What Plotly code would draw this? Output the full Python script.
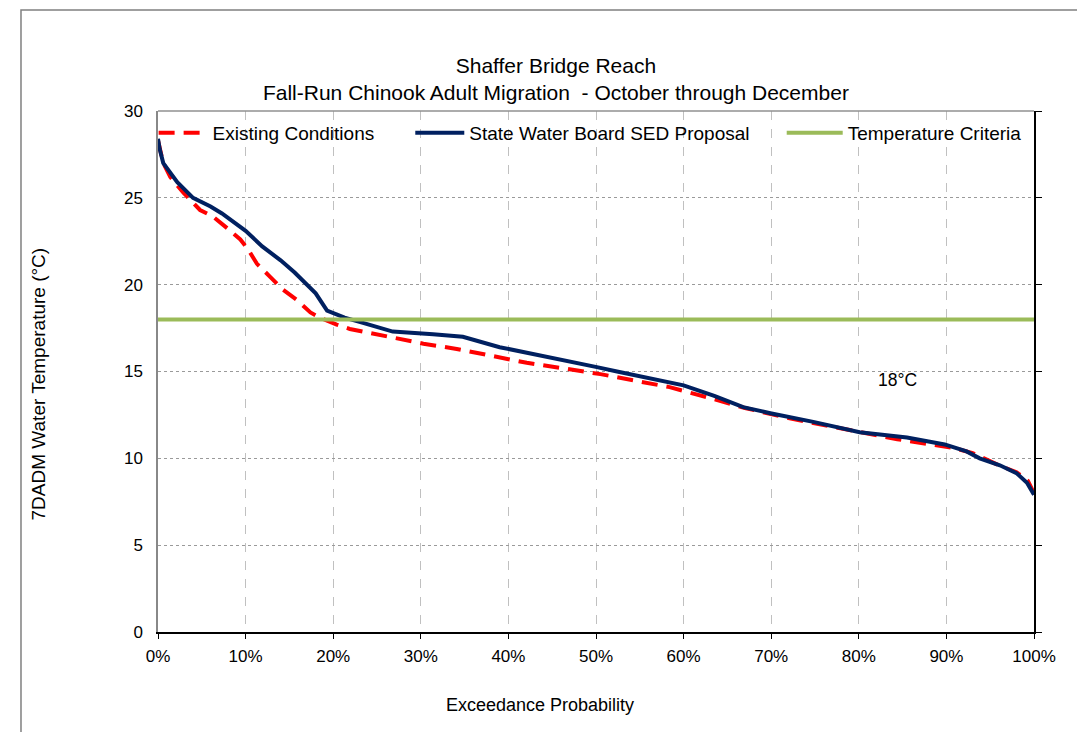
import plotly.graph_objects as go

# exceedance probability (%) and 7DADM temperature (deg C)
existing_x = [0, 0.6, 1.4, 2.9, 4.8, 6.2, 7.9, 9.4, 10.2, 11.3, 12.8, 14.3, 15.9, 17.4, 18.5,
              20.4, 21.9, 25.7, 30.3, 34.1, 38.7, 42.1, 46.7, 50.5, 54.7, 58.4, 62.8, 67.0,
              72.1, 75.2, 81.6, 84.4, 90.8, 93.0, 96.0, 98.0, 99.3, 100]
existing_y = [28.3, 27.0, 26.2, 25.3, 24.3, 23.95, 23.25, 22.6, 22.1, 21.2, 20.45, 19.7, 19.1,
              18.4, 18.1, 17.7, 17.45, 17.05, 16.6, 16.3, 15.85, 15.5, 15.15, 14.85, 14.45,
              14.1, 13.5, 12.9, 12.3, 12.0, 11.35, 11.1, 10.6, 10.3, 9.6, 9.2, 8.7, 8.0]

sed_x = [0, 0.2, 0.6, 1.2, 2.2, 4.0, 6.0, 7.3, 10.0, 11.9, 14.0, 15.6, 18.0, 19.3, 21.3, 23.4,
         26.8, 31.4, 34.8, 39.0, 41.0, 46.7, 50.1, 52.4, 56.2, 60.0, 63.5, 66.8, 69.9, 74.8,
         80.1, 85.5, 89.8, 92.3, 93.8, 96.1, 98.0, 99.2, 100]
sed_y = [28.4, 27.8, 27.0, 26.6, 25.9, 25.0, 24.5, 24.1, 23.1, 22.2, 21.4, 20.7, 19.5, 18.5,
         18.1, 17.8, 17.3, 17.15, 17.0, 16.4, 16.2, 15.6, 15.25, 15.0, 14.6, 14.2, 13.6,
         12.95, 12.6, 12.1, 11.5, 11.2, 10.8, 10.4, 10.0, 9.6, 9.15, 8.6, 7.9]

criteria_x = [0, 100]
criteria_y = [18, 18]

FONT = "Liberation Sans, Arial, sans-serif"

fig = go.Figure()
fig.add_trace(go.Scatter(x=[v / 100 for v in existing_x], y=existing_y, mode="lines",
                         name="Existing Conditions", legend="legend",
                         line=dict(color="#ff0000", width=4, dash="16px,9px")))
fig.add_trace(go.Scatter(x=[v / 100 for v in sed_x], y=sed_y, mode="lines",
                         name="State Water Board SED Proposal", legend="legend2",
                         line=dict(color="#002060", width=4)))
fig.add_trace(go.Scatter(x=[v / 100 for v in criteria_x], y=criteria_y, mode="lines",
                         name="Temperature Criteria", legend="legend3",
                         line=dict(color="#9bbb59", width=4)))
# dummy trace for right-hand axis ticks
fig.add_trace(go.Scatter(x=[0], y=[0], yaxis="y2", mode="none", showlegend=False,
                         hoverinfo="skip"))

leg = dict(orientation="h", bgcolor="rgba(0,0,0,0)", font=dict(size=19, color="black"),
           yanchor="middle", y=0.958, xanchor="left", itemwidth=49)
fig.update_layout(
    width=1085, height=732,
    margin=dict(l=150, r=59, t=103, b=108),
    paper_bgcolor="white", plot_bgcolor="white",
    font=dict(family=FONT, size=17, color="black"),
    title=dict(text="Shaffer Bridge Reach<br>Fall-Run Chinook Adult Migration  - October through December",
               x=0.505, xref="container", xanchor="center",
               y=1 - 65 / 732, yref="container", yanchor="top",
               font=dict(size=21)),
    legend=dict(leg, x=-0.005),
    legend2=dict(leg, x=0.288),
    legend3=dict(leg, x=0.712, itemwidth=56),
    xaxis=dict(range=[0, 1], tickformat=".0%", dtick=0.1,
               showline=True, linecolor="black", linewidth=1.5,
               ticks="outside", ticklen=5, tickcolor="black", ticklabelstandoff=3,
               showgrid=True, gridcolor="#c0c0c0", griddash="dash", gridwidth=1.2,
               zeroline=False, tickfont=dict(size=17)),
    yaxis=dict(range=[0, 30], dtick=5, showline=True, linecolor="#888888", linewidth=1.5,
               showgrid=True, gridcolor="#9a9a9a", griddash="dot", gridwidth=1,
               ticklabelstandoff=10,
               zeroline=False, tickfont=dict(size=17)),
    yaxis2=dict(range=[0, 30], dtick=5, overlaying="y", side="right", showline=True,
                linecolor="black", linewidth=1.5, ticks="outside", ticklen=6,
                tickcolor="black", showticklabels=False, showgrid=False, zeroline=False),
    showlegend=True,
)

# outer chart border and top plot edge
fig.add_shape(type="rect", xref="paper", yref="paper", x0=-0.1564, x1=1.2, y0=-0.4, y1=1.194,
              line=dict(color="#808080", width=1.5), layer="below")
fig.add_shape(type="line", xref="paper", yref="paper", x0=0, x1=1, y0=1, y1=1,
              line=dict(color="#909090", width=1.5))

fig.add_annotation(text="7DADM Water Temperature (°C)", xref="paper", yref="paper",
                   x=-0.137, y=0.477, textangle=-90, showarrow=False,
                   font=dict(size=19), xanchor="center", yanchor="middle")
fig.add_annotation(text="Exceedance Probability", xref="paper", yref="paper",
                   x=0.436, y=-0.14, showarrow=False, font=dict(size=18),
                   xanchor="center", yanchor="middle")
fig.add_annotation(text="18°C", x=0.844, y=14.5, showarrow=False, font=dict(size=17.5))

fig.write_html("out.html")
